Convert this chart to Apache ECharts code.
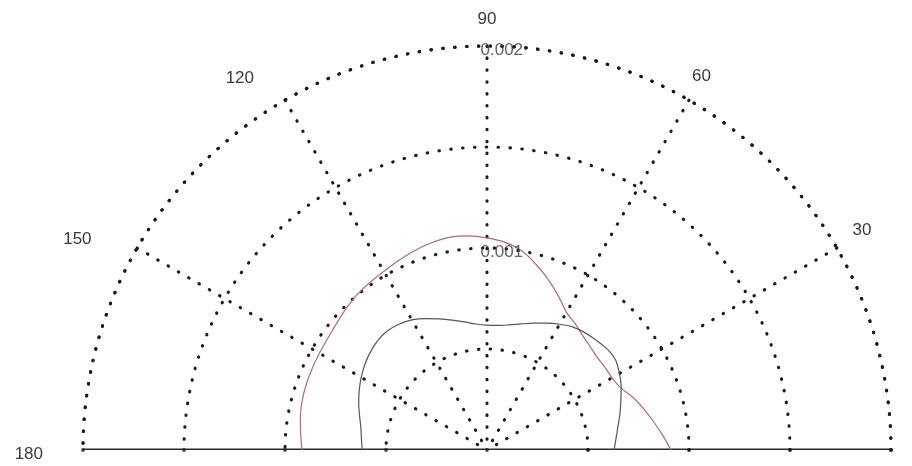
<!DOCTYPE html>
<html>
<head>
<meta charset="utf-8">
<script src="https://cdn.jsdelivr.net/npm/echarts@6/dist/echarts.min.js"></script>
<style>
  html, body { margin: 0; padding: 0; background: #ffffff; }
  #chart { width: 912px; height: 466px; }
</style>
</head>
<body>
<div id="chart"></div>
<script>
// Polar angles (degrees) at which both patterns are sampled
const angles = [0, 5, 10, 15, 20, 25, 30, 35, 40, 45, 50, 55, 60, 65, 70, 75, 80, 85, 90,
                95, 100, 105, 110, 115, 120, 125, 130, 135, 140, 145, 150, 155, 160, 165, 170, 175, 180];

// Outer (reddish) pattern
const outerPattern = [0.000911, 0.000871, 0.000834, 0.000800, 0.000767, 0.000730, 0.000715, 0.000713, 0.000713, 0.000723,
                      0.000738, 0.000762, 0.000787, 0.000839, 0.000894, 0.000948, 0.001000, 0.001032, 0.001050,
                      0.001064, 0.001069, 0.001062, 0.001050, 0.001035, 0.001021, 0.001012, 0.001002, 0.000988,
                      0.000973, 0.000963, 0.000958, 0.000955, 0.000952, 0.000947, 0.000938, 0.000926, 0.000916];

// Inner (grey) pattern
const innerPattern = [0.000629, 0.000641, 0.000658, 0.000681, 0.000705, 0.000733, 0.000757, 0.000777, 0.000777, 0.000767,
                      0.000757, 0.000743, 0.000719, 0.000693, 0.000668, 0.000646, 0.000629, 0.000619, 0.000618,
                      0.000626, 0.000644, 0.000666, 0.000691, 0.000718, 0.000744, 0.000760, 0.000769, 0.000765,
                      0.000754, 0.000738, 0.000719, 0.000698, 0.000676, 0.000653, 0.000634, 0.000624, 0.000618];

// Axis ticks
const angleTicks = [0, 30, 60, 90, 120, 150, 180];
const angleTickLabels = ['', '30', '60', '90', '120', '150', '180'];
const radiusTicks = [0, 0.0005, 0.001, 0.0015, 0.002];
const radiusLabelValues = [0.001, 0.002];
const radiusLabelTexts = ['0.001', '0.002'];
const radiusMax = 0.002;
const radiusStep = 0.0005;

const ink = '#1c1c1c';
const clear = 'rgba(0,0,0,0)';
const dash = { width: 3.1, type: [0.5, 11.4], cap: 'round' };
const font = 'Liberation Sans, Arial, sans-serif';
const labelColor = '#3a3a3a';

// spokes at 0° and 180° lie under the solid base line, so they stay invisible
const spokeColors = angleTicks.map(a => (a === 0 || a === 180) ? clear : ink);

// per-label nudges: [top, right, bottom, left] padding
const labelPad = {
  '30': [0, 0, 0, 0],
  '60': [0, 0, 0, -6],
  '90': [0, 0, 0, 0],
  '120': [0, 22, -2, 0],
  '150': [0, 30, -9, 0],
  '180': [0, 22, -8, 0]
};

const rich = {};
Object.keys(labelPad).forEach(k => {
  rich['t' + k] = { fontFamily: font, fontSize: 17, color: labelColor, padding: labelPad[k] };
});

const chart = echarts.init(document.getElementById('chart'), null, { renderer: 'canvas' });

chart.setOption({
  animation: false,
  backgroundColor: '#ffffff',
  polar: { center: [487, 450], radius: 404 },
  angleAxis: {
    type: 'value',
    min: 0,
    max: 180,
    interval: 30,
    startAngle: 0,
    endAngle: 180,
    clockwise: false,
    axisLine: { show: true, lineStyle: Object.assign({ color: ink }, dash) },
    axisTick: { show: false },
    splitLine: { show: true, lineStyle: Object.assign({ color: spokeColors }, dash) },
    axisLabel: {
      show: true,
      margin: 18,
      fontFamily: font,
      fontSize: 17,
      color: labelColor,
      formatter: function (v) {
        const t = angleTickLabels[angleTicks.indexOf(Math.round(v))];
        return t ? '{t' + t + '|' + t + '}' : '';
      },
      rich: rich
    }
  },
  radiusAxis: {
    type: 'value',
    min: 0,
    max: radiusMax,
    interval: radiusStep,
    axisLine: { show: false },
    axisTick: { show: false },
    axisLabel: { show: false },
    splitLine: { show: true, lineStyle: Object.assign({ color: ink }, dash) }
  },
  series: [
    {
      // solid base line along the 0°–180° diameter
      type: 'line',
      coordinateSystem: 'polar',
      data: [[radiusMax, 0], [0, 0], [radiusMax, 180]],
      symbol: 'none',
      silent: true,
      clip: false,
      lineStyle: { color: '#2a2a2a', width: 3.2 },
      z: 4
    },
    {
      // grid dots where each ring meets the base line
      type: 'scatter',
      coordinateSystem: 'polar',
      data: radiusTicks.map(r => [r, 0]).concat(radiusTicks.slice(1).map(r => [r, 180])),
      symbol: 'circle',
      symbolSize: 3.8,
      itemStyle: { color: ink },
      silent: true,
      clip: false,
      z: 5
    },
    {
      name: 'outer',
      type: 'line',
      coordinateSystem: 'polar',
      data: angles.map((a, i) => [outerPattern[i], a]),
      smooth: 0.3,
      symbol: 'none',
      lineStyle: { color: '#b4687a', width: 1.2 },
      z: 6
    },
    {
      name: 'inner',
      type: 'line',
      coordinateSystem: 'polar',
      data: angles.map((a, i) => [innerPattern[i], a]),
      smooth: 0.3,
      symbol: 'none',
      lineStyle: { color: '#55565f', width: 1.2 },
      z: 6
    },
    {
      // radius value labels on the 90° spoke
      type: 'scatter',
      coordinateSystem: 'polar',
      data: radiusLabelValues.map(r => [r, 90]),
      symbolSize: 1,
      itemStyle: { color: clear },
      silent: true,
      label: {
        show: true,
        position: 'right',
        distance: 0,
        offset: [-7, 4],
        fontFamily: font,
        fontSize: 17,
        color: labelColor,
        formatter: p => radiusLabelTexts[p.dataIndex]
      },
      z: 7
    }
  ]
});
</script>
</body>
</html>
